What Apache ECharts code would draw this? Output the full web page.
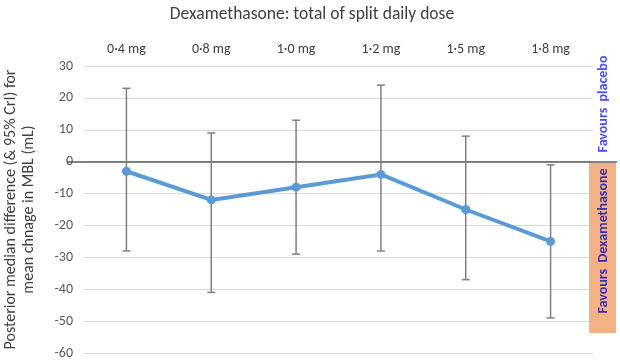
<!DOCTYPE html>
<html><head><meta charset="utf-8">
<script src="https://cdn.jsdelivr.net/npm/echarts@6/dist/echarts.min.js"></script>
<style>html,body{margin:0;padding:0;background:#fff}#c{width:620px;height:361px}</style>
</head><body><div id="c"></div>
<script>
const categories = ['0·4 mg','0·8 mg','1·0 mg','1·2 mg','1·5 mg','1·8 mg'];
const medians = [-3, -12, -8, -4, -15, -25];
const lower = [-28, -41, -29, -28, -37, -49];
const upper = [23, 9, 13, 24, 8, -1];
const yTicks = {min: -60, max: 30, interval: 10};

const chart = echarts.init(document.getElementById('c'));
const errData = categories.map((c, i) => [i, lower[i], upper[i]]);
const font = 'Carlito, Lato, sans-serif';
chart.setOption({
  animation: false,
  textStyle: {fontFamily: font},
  title: {text: 'Dexamethasone: total of split daily dose', left: 307, textAlign: 'center', top: 1,
    textStyle: {fontSize: 17.5, fontWeight: 'normal', color: '#404040', fontFamily: font}},
  grid: {left: 84, right: 27, top: 66, bottom: 8, outerBoundsMode: 'none', containLabel: false},
  xAxis: {type: 'category', data: categories, position: 'top', axisLine: {show: false},
    axisTick: {show: false},
    axisLabel: {color: '#404040', fontSize: 14, margin: 10, fontFamily: font}},
  yAxis: {type: 'value', min: yTicks.min, max: yTicks.max, interval: yTicks.interval,
    axisLine: {show: false}, axisTick: {show: false},
    splitLine: {lineStyle: {color: '#d9d9d9'}},
    axisLabel: {color: '#595959', fontSize: 14, margin: 11, fontFamily: font},
    name: 'Posterior median difference (& 95% CrI) for\nmean chnage in MBL (mL)',
    nameLocation: 'middle', nameGap: 46, nameRotate: 90,
    nameTextStyle: {color: '#404040', fontSize: 16, lineHeight: 18, fontFamily: font}},
  series: [
    {type: 'custom', z: 3, data: errData,
      renderItem: (params, api) => {
        const x = api.value(0);
        const lo = api.coord([x, api.value(1)]);
        const hi = api.coord([x, api.value(2)]);
        const cap = 4;
        const st = {stroke: '#808080', lineWidth: 1.5};
        return {type: 'group', children: [
          {type: 'line', shape: {x1: lo[0], y1: lo[1], x2: hi[0], y2: hi[1]}, style: st},
          {type: 'line', shape: {x1: lo[0]-cap, y1: lo[1], x2: lo[0]+cap, y2: lo[1]}, style: st},
          {type: 'line', shape: {x1: hi[0]-cap, y1: hi[1], x2: hi[0]+cap, y2: hi[1]}, style: st}
        ]};
      }},
    {type: 'line', z: 4, data: medians, symbol: 'circle', symbolSize: 9,
      lineStyle: {color: '#5b9bd5', width: 4}, itemStyle: {color: '#5b9bd5'}}
  ],
  graphic: [
    {type: 'rect', shape: {x: 589, y: 163, width: 27, height: 170}, style: {fill: '#f4b183'}, z: 1},
    {type: 'line', shape: {x1: 67, y1: 162, x2: 617, y2: 162}, style: {stroke: '#595959', lineWidth: 1.3}, z: 2},
    {type: 'text', x: 603, y: 241, rotation: Math.PI/2, z: 10, style: {text: 'Favours  Dexamethasone',
      fill: '#3b2fb0', fontSize: 14, fontWeight: 'bold', fontFamily: font, align: 'center', verticalAlign: 'middle'}},
    {type: 'text', x: 603, y: 104, rotation: Math.PI/2, z: 10, style: {text: 'Favours  placebo',
      fill: '#4a4aff', fontSize: 14, fontWeight: 'bold', fontFamily: font, align: 'center', verticalAlign: 'middle'}}
  ]
});
</script></body></html>
